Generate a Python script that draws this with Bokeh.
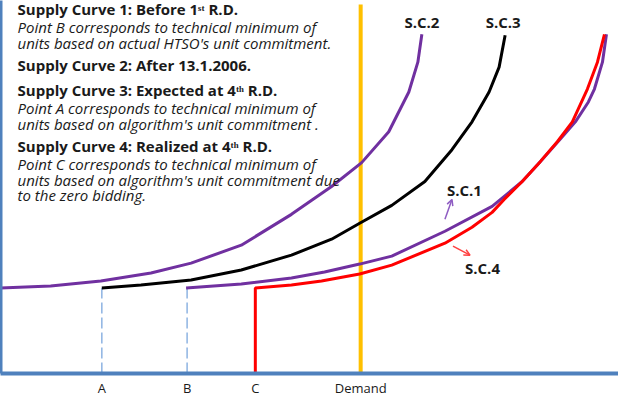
from bokeh.plotting import figure
from bokeh.models import Range1d, FixedTicker, Arrow, OpenHead
from bokeh.core.properties import value
from bokeh.embed import file_html
from bokeh.resources import INLINE

# ---- data (chart units: quantity on x, price on y) ----
sc2_q = [0, 50, 100, 150, 190, 240, 290, 330, 360, 387, 407, 416, 420]
sc2_p = [86, 88, 93, 101, 111, 129, 160, 188, 212, 243, 283, 313, 341]

sc3_q = [101, 140, 190, 240, 290, 330, 358, 390, 423, 450, 470, 487, 497, 503]
sc3_p = [86, 89, 94, 104, 119, 135, 151, 169, 193, 225, 253, 283, 308, 340]

sc1_q = [185, 240, 290, 323, 358, 390, 443, 490, 520, 538, 560, 573, 586, 592, 600, 604]
sc1_p = [86, 90, 96, 102, 110, 118, 143, 168, 193, 213, 238, 253, 273, 286, 313, 341]

sc4_q = [254, 254, 290, 320, 358, 390, 443, 470, 490, 502, 520, 538, 555, 570, 585, 595, 602]
sc4_p = [0, 86, 89, 93, 100, 109, 131, 147, 162, 175, 193, 213, 233, 253, 286, 313, 341]

point_names = ["A", "B", "C", "Demand"]
point_q = [101, 186, 254, 359]
min_price = 86
demand_top = 371

curve_labels = ["S.C.2", "S.C.3"]
curve_label_q = [420, 501]
curve_label_p = [353, 353]

bold_lines = ["Supply Curve 1: Before 1\u02e2\u1d57 R.D.",
              "Supply Curve 2: After 13.1.2006.",
              "Supply Curve 3: Expected at 4\u1d57\u02b0 R.D.",
              "Supply Curve 4: Realized at 4\u1d57\u02b0 R.D."]
bold_y = [366, 310, 285, 229]
italic_lines = ["Point B corresponds to technical minimum of",
                "units based on actual HTSO's unit commitment.",
                "Point A corresponds to technical minimum of",
                "units based on algorithm's unit commitment .",
                "Point C corresponds to technical minimum of",
                "units based on algorithm's unit commitment due",
                "to the zero bidding."]
italic_y = [348, 332, 267, 251, 211, 195, 179]
text_x = 17

FONT = "Open Sans"
PURPLE = "#7030A0"
RED = "#FF0000"
YELLOW = "#FFC000"
AXIS_BLUE = "#4F81BD"

p = figure(width=618, height=399, x_range=Range1d(0, 616), y_range=Range1d(0, 375),
           output_backend="svg", toolbar_location=None,
           min_border_left=0, min_border_right=0, min_border_top=0, min_border_bottom=0)
p.grid.visible = False
p.outline_line_color = None

# y axis: plain line
p.yaxis.ticker = FixedTicker(ticks=[])
p.yaxis.axis_line_color = AXIS_BLUE
p.yaxis.axis_line_width = 4
p.yaxis.major_tick_line_color = None
p.yaxis.minor_tick_line_color = None

# x axis with point labels
p.xaxis.ticker = FixedTicker(ticks=point_q)
p.xaxis.major_label_overrides = {q: n for q, n in zip(point_q, point_names)}
p.xaxis.axis_line_color = AXIS_BLUE
p.xaxis.axis_line_width = 4
p.xaxis.major_tick_line_color = None
p.xaxis.minor_tick_line_color = None
p.xaxis.major_tick_out = 0
p.xaxis.major_tick_in = 0
p.xaxis.minor_tick_out = 0
p.xaxis.minor_tick_in = 0
p.xaxis.major_label_standoff = 5
p.xaxis.major_label_text_font = FONT
p.xaxis.major_label_text_font_size = "13px"
p.xaxis.major_label_text_color = "#1a1a1a"

# dashed guides at A and B
p.segment(x0=point_q[:2], y0=[0, 0], x1=point_q[:2], y1=[min_price, min_price],
          line_color="#8DB3E2", line_width=1.5, line_dash="11 4")

# demand line
p.segment(x0=[point_q[3]], y0=[0], x1=[point_q[3]], y1=[demand_top],
          line_color=YELLOW, line_width=4)

# supply curves
p.line(sc2_q, sc2_p, line_color=PURPLE, line_width=3)
p.line(sc3_q, sc3_p, line_color="black", line_width=3)
p.line(sc1_q, sc1_p, line_color=PURPLE, line_width=3)
p.line(sc4_q, sc4_p, line_color=RED, line_width=3)

# curve labels
p.text(x=curve_label_q, y=curve_label_p, text=curve_labels, text_align="center",
       text_baseline="middle", text_font=value(FONT), text_font_style="bold",
       text_font_size="15px", text_color="#1a1a1a")
p.text(x=[445], y=[184], text=["S.C.1"], text_align="left", text_baseline="middle",
       text_font=value(FONT), text_font_style="bold", text_font_size="15px", text_color="#1a1a1a")
p.text(x=[463], y=[106], text=["S.C.4"], text_align="left", text_baseline="middle",
       text_font=value(FONT), text_font_style="bold", text_font_size="15px", text_color="#1a1a1a")

# small arrows
p.add_layout(Arrow(x_start=443, y_start=155, x_end=450, y_end=175, line_color="#8E5CC2",
                   line_width=1.5, end=OpenHead(size=6, line_color="#8E5CC2", line_width=1.5)))
p.add_layout(Arrow(x_start=451, y_start=128, x_end=468, y_end=119, line_color="#FF4040",
                   line_width=1.5, end=OpenHead(size=6, line_color="#FF4040", line_width=1.5)))

# explanatory text
p.text(x=[text_x] * len(bold_lines), y=bold_y, text=bold_lines, text_baseline="middle",
       text_font=value(FONT), text_font_style="bold", text_font_size="15px", text_color="#1a1a1a")
p.text(x=[text_x] * len(italic_lines), y=italic_y, text=italic_lines, text_baseline="middle",
       text_font=value(FONT), text_font_style="italic", text_font_size="15px", text_color="#1a1a1a")

open("out.html", "w").write(file_html(p, INLINE))
